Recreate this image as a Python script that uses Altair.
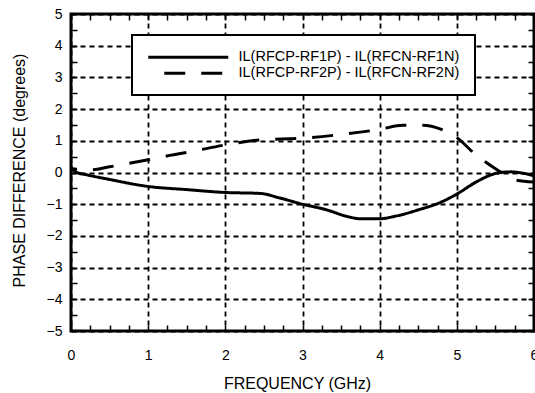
import altair as alt
import pandas as pd

series_names = ["IL(RFCP-RF1P) - IL(RFCN-RF1N)", "IL(RFCP-RF2P) - IL(RFCN-RF2N)"]

freq_1 = [0.0, 0.03, 0.08, 0.2, 0.5, 1.0, 1.5, 2.0, 2.45, 2.7, 3.0, 3.3, 3.6, 3.75, 4.0, 4.2, 4.5, 4.8, 5.0, 5.25, 5.5, 5.6, 5.7, 5.85, 6.0]
phase_1 = [0.2, 0.08, 0.0, -0.07, -0.22, -0.44, -0.54, -0.63, -0.66, -0.8, -1.0, -1.17, -1.4, -1.46, -1.46, -1.38, -1.18, -0.93, -0.68, -0.3, -0.03, 0.01, 0.02, -0.02, -0.1]

freq_2 = [0.0, 0.25, 0.5, 1.0, 1.28, 1.5, 2.0, 2.45, 3.0, 3.5, 4.0, 4.3, 4.55, 4.8, 5.0, 5.25, 5.5, 5.75, 6.0]
phase_2 = [0.12, 0.08, 0.18, 0.4, 0.54, 0.63, 0.87, 1.03, 1.08, 1.2, 1.36, 1.49, 1.49, 1.36, 1.1, 0.55, 0.12, -0.23, -0.3]

x_major = [0, 1, 2, 3, 4, 5, 6]
y_major = [-5, -4, -3, -2, -1, 0, 1, 2, 3, 4, 5]
x_minor = [0, 0.25, 0.5, 0.75, 1, 1.25, 1.5, 1.75, 2, 2.25, 2.5, 2.75, 3, 3.25, 3.5, 3.75,
           4, 4.25, 4.5, 4.75, 5, 5.25, 5.5, 5.75, 6]
y_minor = [-5, -4.5, -4, -3.5, -3, -2.5, -2, -1.5, -1, -0.5, 0, 0.5, 1, 1.5, 2, 2.5, 3, 3.5, 4, 4.5, 5]

df = pd.DataFrame({
    "freq": freq_1 + freq_2,
    "phase": phase_1 + phase_2,
    "series": [series_names[0]] * len(freq_1) + [series_names[1]] * len(freq_2),
})

FONT = "Liberation Sans"
xs = alt.Scale(domain=[0, 6], nice=False, zero=False)
ys = alt.Scale(domain=[-5, 5], nice=False, zero=False)

main_x = alt.Axis(
    values=x_major, format="d", title="FREQUENCY (GHz)",
    grid=True, gridDash=[5, 4], gridColor="black", gridWidth=1.8, gridOpacity=1,
    ticks=False, tickSize=0, domain=False, labelFlush=False, labelPadding=17,
    labelFont=FONT, labelFontSize=14, labelColor="black",
    titleFont=FONT, titleFontSize=16, titleFontWeight="normal", titleColor="black",
    titleX=226, titleY=52, titleBaseline="middle", titleAlign="center",
)
main_y = alt.Axis(
    values=y_major, format="d", title="PHASE DIFFERENCE (degrees)",
    grid=True, gridDash=[5, 4], gridColor="black", gridWidth=1.8, gridOpacity=1,
    ticks=False, tickSize=0, domain=False, labelFlush=False, labelPadding=9,
    labelFont=FONT, labelFontSize=14, labelColor="black",
    titleFont=FONT, titleFontSize=16, titleFontWeight="normal", titleColor="black",
    titleX=-52, titleY=156, titleAngle=270, titleBaseline="middle", titleAlign="center",
)


def minor_axis(orient, vals):
    return alt.Axis(orient=orient, values=vals, offset=-6, tickSize=6, tickWidth=1.5,
                    tickColor="black", labels=False, domain=False, grid=False, title=None)


lines = alt.Chart(df).mark_line(strokeWidth=3, color="black", interpolate="monotone",
                                strokeDashOffset=15).encode(
    x=alt.X("freq:Q", scale=xs, axis=main_x),
    y=alt.Y("phase:Q", scale=ys, axis=main_y),
    strokeDash=alt.StrokeDash(
        "series:N",
        scale=alt.Scale(domain=series_names, range=[[1, 0], [21, 16]]),
        legend=alt.Legend(
            title=None, orient="none", legendX=61, legendY=21,
            symbolType="M-10,0H10", symbolSize=64, symbolStrokeWidth=3,
            symbolStrokeColor="black", symbolOffset=34, labelOffset=43,
            symbolDashOffset=21, labelFont=FONT, labelFontSize=14.5, labelColor="black",
            labelLimit=0, rowPadding=1, padding=15,
        ),
    ),
)

minor_bl = alt.Chart(df).mark_point(opacity=0).encode(
    x=alt.X("freq:Q", scale=xs, axis=minor_axis("bottom", x_minor)),
    y=alt.Y("phase:Q", scale=ys, axis=minor_axis("left", y_minor)),
)
minor_tr = alt.Chart(df).mark_point(opacity=0).encode(
    x=alt.X("freq:Q", scale=xs, axis=minor_axis("top", x_minor)),
    y=alt.Y("phase:Q", scale=ys, axis=minor_axis("right", y_minor)),
)

chart = (
    alt.layer(lines, minor_bl, minor_tr)
    .resolve_axis(x="independent", y="independent")
    .properties(
        width=463, height=317,
        padding={"left": 71, "top": 14, "right": 1, "bottom": 62},
        autosize=alt.AutoSizeParams(type="none"),
        background="white",
    )
    .configure_view(stroke="black", strokeWidth=3)
    .configure_legend(strokeColor="black", strokeWidth=2, fillColor="white", cornerRadius=0)
)

chart.save("out.html", embed_options={"renderer": "svg", "actions": False})
